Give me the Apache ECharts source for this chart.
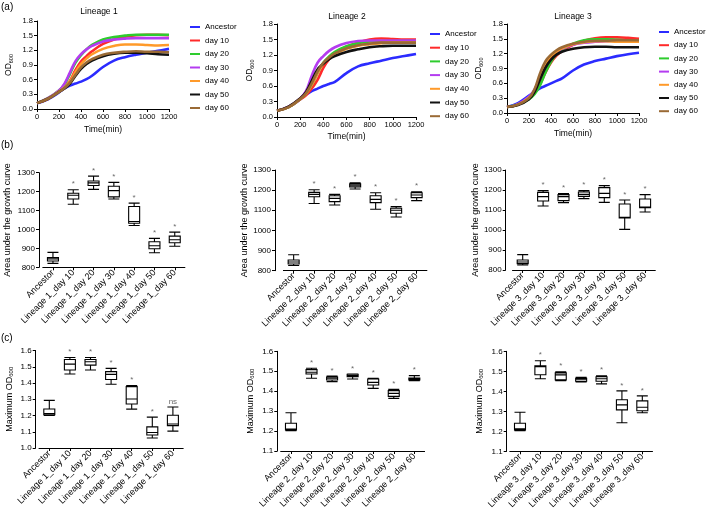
<!DOCTYPE html>
<html><head><meta charset="utf-8">
<script src="https://cdn.jsdelivr.net/npm/echarts@6/dist/echarts.min.js"></script>
<style>html,body{margin:0;padding:0;background:#fff}#c{width:709px;height:516px}</style>
</head><body><div id="c"></div>
<script>
// ---------- DATA ----------
const timePoints = [0,100,200,250,300,350,400,450,500,600,700,800,900,1000,1100,1200];
const curveNames = ['Ancestor','day 10','day 20','day 30','day 40','day 50','day 60'];
const curveColors = ['#2b2bff','#ff2a2a','#2ecc2e','#b43cf0','#ff9a2a','#111111','#9a6a35'];

const L1_ancestor = [0.12,0.20,0.34,0.42,0.48,0.52,0.56,0.61,0.68,0.86,0.99,1.06,1.11,1.15,1.19,1.23];
const L1_day10 = [0.12,0.21,0.36,0.44,0.58,0.80,0.97,1.08,1.18,1.33,1.42,1.48,1.51,1.52,1.52,1.51];
const L1_day20 = [0.12,0.22,0.38,0.50,0.72,0.95,1.10,1.22,1.31,1.42,1.47,1.50,1.52,1.52,1.52,1.52];
const L1_day30 = [0.12,0.22,0.38,0.52,0.75,0.98,1.12,1.22,1.29,1.38,1.42,1.44,1.45,1.45,1.45,1.45];
const L1_day40 = [0.12,0.21,0.36,0.44,0.56,0.76,0.92,1.03,1.12,1.23,1.29,1.32,1.32,1.31,1.30,1.31];
const L1_day50 = [0.12,0.21,0.35,0.42,0.52,0.68,0.82,0.92,0.99,1.08,1.13,1.15,1.15,1.14,1.12,1.11];
const L1_day60 = [0.12,0.21,0.35,0.43,0.54,0.70,0.85,0.95,1.02,1.11,1.15,1.17,1.18,1.17,1.17,1.16];

const L2_ancestor = [0.12,0.19,0.34,0.43,0.50,0.55,0.60,0.64,0.68,0.85,0.98,1.04,1.09,1.14,1.18,1.22];
const L2_day10 = [0.12,0.19,0.34,0.42,0.55,0.72,0.95,1.12,1.22,1.36,1.44,1.50,1.52,1.51,1.50,1.50];
const L2_day20 = [0.12,0.19,0.35,0.45,0.62,0.85,1.05,1.17,1.26,1.37,1.43,1.46,1.47,1.47,1.47,1.47];
const L2_day30 = [0.12,0.20,0.36,0.50,0.80,1.05,1.18,1.28,1.35,1.43,1.47,1.48,1.48,1.48,1.48,1.48];
const L2_day40 = [0.12,0.19,0.35,0.45,0.62,0.85,1.03,1.14,1.22,1.32,1.38,1.41,1.43,1.44,1.44,1.44];
const L2_day50 = [0.12,0.20,0.36,0.48,0.70,0.92,1.03,1.12,1.18,1.26,1.31,1.35,1.37,1.38,1.38,1.38];
const L2_day60 = [0.12,0.19,0.35,0.46,0.65,0.88,1.05,1.15,1.23,1.33,1.39,1.42,1.44,1.44,1.44,1.44];

const L3_ancestor = [0.12,0.20,0.35,0.43,0.50,0.55,0.60,0.65,0.70,0.86,0.98,1.05,1.10,1.15,1.19,1.22];
const L3_day10 = [0.12,0.17,0.30,0.40,0.58,0.82,1.02,1.16,1.25,1.38,1.46,1.51,1.53,1.53,1.52,1.50];
const L3_day20 = [0.12,0.17,0.28,0.38,0.56,0.82,1.04,1.19,1.28,1.40,1.47,1.49,1.49,1.48,1.47,1.47];
const L3_day30 = [0.12,0.18,0.33,0.47,0.72,0.98,1.14,1.23,1.30,1.38,1.42,1.44,1.45,1.46,1.46,1.46];
const L3_day40 = [0.12,0.17,0.31,0.44,0.70,0.96,1.14,1.24,1.31,1.39,1.43,1.45,1.45,1.44,1.44,1.44];
const L3_day50 = [0.12,0.16,0.28,0.42,0.68,0.92,1.08,1.18,1.24,1.30,1.33,1.34,1.34,1.33,1.33,1.33];
const L3_day60 = [0.12,0.17,0.30,0.48,0.80,1.05,1.18,1.27,1.33,1.40,1.44,1.46,1.46,1.47,1.47,1.47];

const boxCats1 = ['Ancestor','Lineage 1_day 10','Lineage 1_day 20','Lineage 1_day 30','Lineage 1_day 40','Lineage 1_day 50','Lineage 1_day 60'];
const boxCats2 = ['Ancestor','Lineage 2_day 10','Lineage 2_day 20','Lineage 2_day 30','Lineage 2_day 40','Lineage 2_day 50','Lineage 2_day 60'];
const boxCats3 = ['Ancestor','Lineage 3_day 10','Lineage 3_day 20','Lineage 3_day 30','Lineage 3_day 40','Lineage 3_day 50','Lineage 3_day 60'];

// [min, Q1, median, Q3, max]
const auc1 = [[821,833,844,851,879],[1133,1161,1181,1191,1210],[1212,1232,1246,1256,1282],[1161,1172,1205,1228,1249],[1021,1033,1042,1121,1139],[877,898,914,935,953],[911,930,946,965,986]];
const auc2 = [[826,833,843,853,879],[1134,1167,1179,1189,1202],[1126,1143,1159,1172,1179],[1206,1216,1225,1232,1237],[1105,1138,1154,1172,1187],[1067,1085,1100,1110,1118],[1148,1163,1176,1187,1192]];
const auc3 = [[825,832,840,850,877],[1120,1145,1167,1188,1197],[1137,1147,1167,1177,1182],[1157,1168,1178,1190,1197],[1138,1162,1183,1212,1222],[1003,1060,1063,1130,1150],[1090,1112,1115,1155,1177]];

const maxOD1 = [[1.200,1.205,1.212,1.240,1.293],[1.455,1.480,1.516,1.545,1.557],[1.480,1.510,1.531,1.545,1.557],[1.392,1.422,1.453,1.470,1.490],[1.239,1.271,1.302,1.378,1.384],[1.062,1.080,1.095,1.130,1.190],[1.104,1.138,1.148,1.202,1.252]];
const maxOD2 = [[1.202,1.205,1.210,1.239,1.292],[1.465,1.486,1.495,1.508,1.515],[1.448,1.456,1.465,1.471,1.476],[1.461,1.473,1.478,1.485,1.486],[1.414,1.431,1.444,1.461,1.465],[1.364,1.374,1.389,1.403,1.409],[1.453,1.456,1.461,1.466,1.478]];
const maxOD3 = [[1.203,1.207,1.212,1.240,1.295],[1.463,1.483,1.523,1.527,1.553],[1.453,1.457,1.482,1.492,1.498],[1.447,1.450,1.460,1.465,1.470],[1.437,1.450,1.463,1.473,1.478],[1.243,1.307,1.332,1.358,1.402],[1.293,1.303,1.320,1.352,1.377]];

const sigAuc1 = ['','*','*','*','*','*','*'];
const sigAuc2 = ['','*','*','*','*','*','*'];
const sigAuc3 = ['','*','*','*','*','*','*'];
const sigMax1 = ['','*','*','*','*','*','ns'];
const sigMax2 = ['','*','*','*','*','*','*'];
const sigMax3 = ['','*','*','*','*','*','*'];

const lineageTitles = ['Lineage 1','Lineage 2','Lineage 3'];
const aucTicks = [800, 1300, 100];
const maxTicks1 = [1.0, 1.6, 0.1];
const maxTicks23 = [1.1, 1.6, 0.1];
const odTicks = [0, 1.8, 0.3];
const timeTicks = [0, 1200, 200];

// ---------- LAYOUT ----------
const FONT = 'Liberation Sans, Arial, sans-serif';
const curveSets = [
  [L1_ancestor,L1_day10,L1_day20,L1_day30,L1_day40,L1_day50,L1_day60],
  [L2_ancestor,L2_day10,L2_day20,L2_day30,L2_day40,L2_day50,L2_day60],
  [L3_ancestor,L3_day10,L3_day20,L3_day30,L3_day40,L3_day50,L3_day60]
];
const aGrids = [
  {left:37, top:21, width:132, height:88, yGap:23, xGap:16, legendLeft:190, legendTop:22, legendGap:3.5, titleX:99, titleY:12},
  {left:277, top:24, width:139, height:93, yGap:22, xGap:15, legendLeft:430, legendTop:29, legendGap:3.7, titleX:347, titleY:17},
  {left:507, top:24, width:132, height:89, yGap:23, xGap:16, legendLeft:659, legendTop:27, legendGap:3.2, titleX:573, titleY:17}
];
const bGrids = [
  {left:42.8, top:172.7, width:142.1, height:94.6, off:3.8, gap:27},
  {left:283.4, top:170, width:143.5, height:100.7, off:8.4, gap:23},
  {left:512.5, top:170, width:142.8, height:100, off:6.8, gap:25}
];
const cGrids = [
  {left:39, top:350.5, width:144.2, height:97.5, off:3.3, gap:21},
  {left:280.7, top:351.3, width:143.9, height:99.7, off:3.4, gap:22},
  {left:509.8, top:351.3, width:142.7, height:100, off:3.1, gap:22}
];

const axisLine = {show:true, lineStyle:{color:'#000', width:1}};
const axisTick = {show:true, inside:false, length:3, lineStyle:{color:'#000', width:1}};

const grid = [], xAxis = [], yAxis = [], series = [], legend = [], graphic = [];

aGrids.forEach((g, i) => {
  grid.push({left:g.left, top:g.top, width:g.width, height:g.height, containLabel:false, outerBoundsMode:'none'});
  xAxis.push({type:'value', gridIndex:grid.length-1, min:timeTicks[0], max:timeTicks[1], interval:timeTicks[2],
    axisLine, axisTick, splitLine:{show:false},
    axisLabel:{fontSize:7.5, color:'#000', margin:4, fontFamily:FONT, formatter:v=>String(v)},
    name:'Time(min)', nameLocation:'middle', nameGap:g.xGap, nameTextStyle:{fontSize:8.5, color:'#000', fontFamily:FONT}});
  yAxis.push({type:'value', gridIndex:grid.length-1, min:odTicks[0], max:odTicks[1], interval:odTicks[2],
    axisLine, axisTick, splitLine:{show:false},
    axisLabel:{fontSize:7.5, color:'#000', margin:4, fontFamily:FONT, formatter:v=>v.toFixed(1)},
    name:'{a|OD}{b|600}', nameLocation:'middle', nameGap:g.yGap, nameRotate:90,
    nameTextStyle:{fontFamily:FONT, color:'#000', rich:{a:{fontSize:8.5, lineHeight:10, fontFamily:FONT, color:'#000'}, b:{fontSize:5.5, lineHeight:3, verticalAlign:'bottom', fontFamily:FONT, color:'#000'}}}});
  const idx = grid.length-1;
  curveSets[i].forEach((arr, j) => {
    series.push({type:'line', name:curveNames[j], xAxisIndex:idx, yAxisIndex:idx, color:curveColors[j],
      data: timePoints.map((t,k)=>[t, arr[k]]), smooth:0.4, showSymbol:false, symbol:'none',
      lineStyle:{width:2.6, color:curveColors[j]}, z:2+j});
  });
  legend.push({data:curveNames, orient:'vertical', left:g.legendLeft, top:g.legendTop, itemWidth:10, itemHeight:2,
    icon:'rect', itemGap:g.legendGap, selectedMode:false, padding:0,
    textStyle:{fontSize:8, color:'#000', fontFamily:FONT, lineHeight:10}});
  graphic.push({type:'text', x:g.titleX, y:g.titleY, style:{text:lineageTitles[i], font:'8.5px '+FONT, fill:'#000', align:'center', verticalAlign:'middle', textAlign:'center', textVerticalAlign:'middle'}});
});

function addBoxPanel(g, cats, boxes, sig, ticks, yName, nameIsRich, fmt) {
  grid.push({left:g.left, top:g.top, width:g.width, height:g.height, containLabel:false, outerBoundsMode:'none'});
  const idx = grid.length-1;
  xAxis.push({type:'category', gridIndex:idx, data:cats, boundaryGap:true,
    axisLine, axisTick:{show:true, alignWithLabel:true, length:3, lineStyle:{color:'#000'}},
    axisLabel:{rotate:45, interval:0, fontSize:9, color:'#000', margin:4, fontFamily:FONT}, splitLine:{show:false}});
  const nts = nameIsRich ? {fontFamily:FONT, color:'#000', rich:{a:{fontSize:9, lineHeight:10, fontFamily:FONT, color:'#000'}, b:{fontSize:6, lineHeight:3, verticalAlign:'bottom', fontFamily:FONT, color:'#000'}}}
                         : {fontSize:9, color:'#000', fontFamily:FONT};
  yAxis.push({type:'value', gridIndex:idx, min:ticks[0], max:ticks[1], interval:ticks[2], offset:g.off,
    axisLine, axisTick, splitLine:{show:false},
    axisLabel:{fontSize:8, color:'#000', margin:4, fontFamily:FONT, formatter:fmt},
    name:yName, nameLocation:'middle', nameGap:g.gap, nameRotate:90, nameTextStyle:nts});
  series.push({type:'boxplot', name:'box'+idx, xAxisIndex:idx, yAxisIndex:idx, data:boxes, boxWidth:[11,11],
    itemStyle:{color:'#fff', borderColor:'#000', borderWidth:1.1}, emphasis:{disabled:true}});
  const marks = [];
  sig.forEach((s,k)=>{ if (s) marks.push({name:s, value:[k, boxes[k][4]]}); });
  series.push({type:'scatter', name:'sig'+idx, xAxisIndex:idx, yAxisIndex:idx, data:marks, symbolSize:1,
    itemStyle:{color:'rgba(0,0,0,0)'}, silent:true,
    label:{show:true, position:'top', distance:1, formatter:'{b}', fontSize:8, color:'#444', fontFamily:FONT}});
}
addBoxPanel(bGrids[0], boxCats1, auc1, sigAuc1, aucTicks, 'Area under the growth curve', false, v=>String(v));
addBoxPanel(bGrids[1], boxCats2, auc2, sigAuc2, aucTicks, 'Area under the growth curve', false, v=>String(v));
addBoxPanel(bGrids[2], boxCats3, auc3, sigAuc3, aucTicks, 'Area under the growth curve', false, v=>String(v));
addBoxPanel(cGrids[0], boxCats1, maxOD1, sigMax1, maxTicks1, '{a|Maximum OD}{b|600}', true, v=>v.toFixed(1));
addBoxPanel(cGrids[1], boxCats2, maxOD2, sigMax2, maxTicks23, '{a|Maximum OD}{b|600}', true, v=>v.toFixed(1));
addBoxPanel(cGrids[2], boxCats3, maxOD3, sigMax3, maxTicks23, '{a|Maximum OD}{b|600}', true, v=>v.toFixed(1));

[['(a)',1,7],['(b)',1,145],['(c)',1,338]].forEach(p=>{
  graphic.push({type:'text', x:p[1], y:p[2], style:{text:p[0], font:'10px '+FONT, fill:'#000', align:'left', verticalAlign:'middle', textAlign:'left', textVerticalAlign:'middle'}});
});

const chart = echarts.init(document.getElementById('c'), null, {renderer:'canvas'});
chart.setOption({animation:false, backgroundColor:'#fff', tooltip:{show:false}, grid, xAxis, yAxis, series, legend, graphic});
</script></body></html>
